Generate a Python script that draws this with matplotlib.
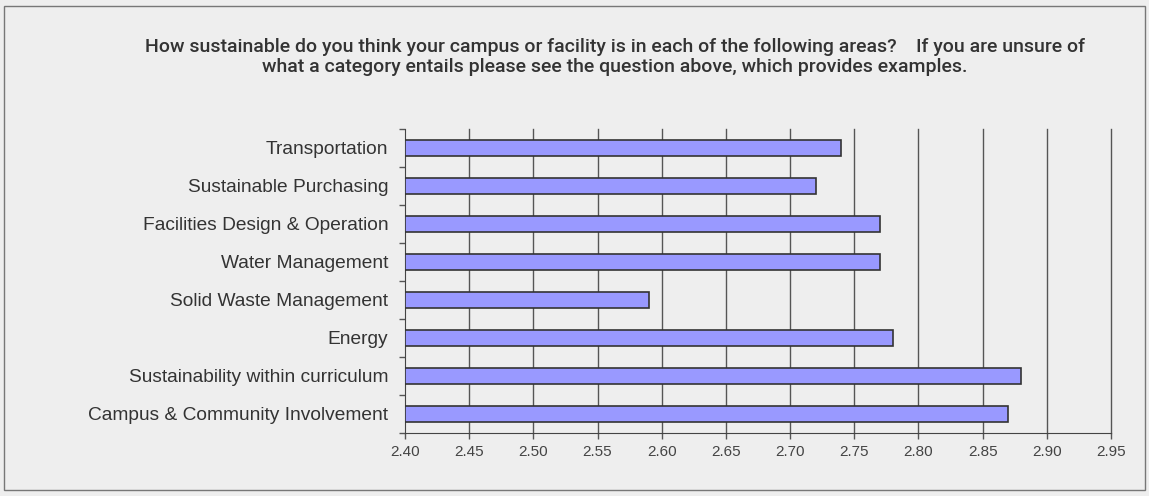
import matplotlib
matplotlib.use("Agg")
import matplotlib.pyplot as plt
from matplotlib.patches import Rectangle

categories = ["Transportation", "Sustainable Purchasing", "Facilities Design & Operation",
              "Water Management", "Solid Waste Management", "Energy",
              "Sustainability within curriculum", "Campus & Community Involvement"]
values = [2.74, 2.72, 2.77, 2.77, 2.59, 2.78, 2.88, 2.87]
xticks = [2.40, 2.45, 2.50, 2.55, 2.60, 2.65, 2.70, 2.75, 2.80, 2.85, 2.90, 2.95]

title = ("How sustainable do you think your campus or facility is in each of the following areas?    If you are unsure of\n"
         "what a category entails please see the question above, which provides examples.")

plt.rcParams['font.family'] = ['Liberation Sans', 'DejaVu Sans']
bg = "#eeeeee"

fig = plt.figure(figsize=(11.49, 4.96), dpi=100, facecolor=bg)
fig.patches.append(Rectangle((4 / 1149, 6 / 496), 1141 / 1149, 484 / 496, transform=fig.transFigure,
                             fill=False, edgecolor="#777777", linewidth=1))

ax = fig.add_axes([405 / 1149, 1 - 433 / 496, 706 / 1149, 304 / 496])
ax.set_facecolor(bg)

n = len(categories)
ypos = list(range(n))
ax.barh(ypos, [v - 2.40 for v in values], left=2.40, height=0.4,
        color="#9999ff", edgecolor="#333333", linewidth=1.2, zorder=3)

ax.set_xlim(2.40, 2.95)
ax.set_ylim(n - 0.5, -0.5)
ax.set_xticks(xticks)
ax.set_xticklabels([f"{t:.2f}" for t in xticks], fontsize=11, color="#444444")
for t in xticks[1:]:
    ax.axvline(t, color="#555555", linewidth=1, zorder=1, clip_on=False)

ax.set_yticks([i - 0.5 for i in range(n + 1)])
ax.set_yticklabels([])
ax.set_yticks(ypos, minor=True)
ax.set_yticklabels(categories, minor=True, fontsize=13.8, color="#333333")
ax.tick_params(axis="y", which="minor", length=0, pad=12)
ax.tick_params(axis="y", which="major", length=4, color="#555555", width=1)
ax.tick_params(axis="x", length=4, color="#555555", width=1, pad=5)

for s in ["top", "right"]:
    ax.spines[s].set_visible(False)
for s in ["left", "bottom"]:
    ax.spines[s].set_color("#444444")

fig.text(615 / 1149, 1 - 57 / 496, title, ha="center", va="center", fontsize=14,
         fontweight="medium", family=["Roboto", "DejaVu Sans"], color="#333333",
         linespacing=1.12)

fig.savefig("out.png", dpi=100, facecolor=bg)
